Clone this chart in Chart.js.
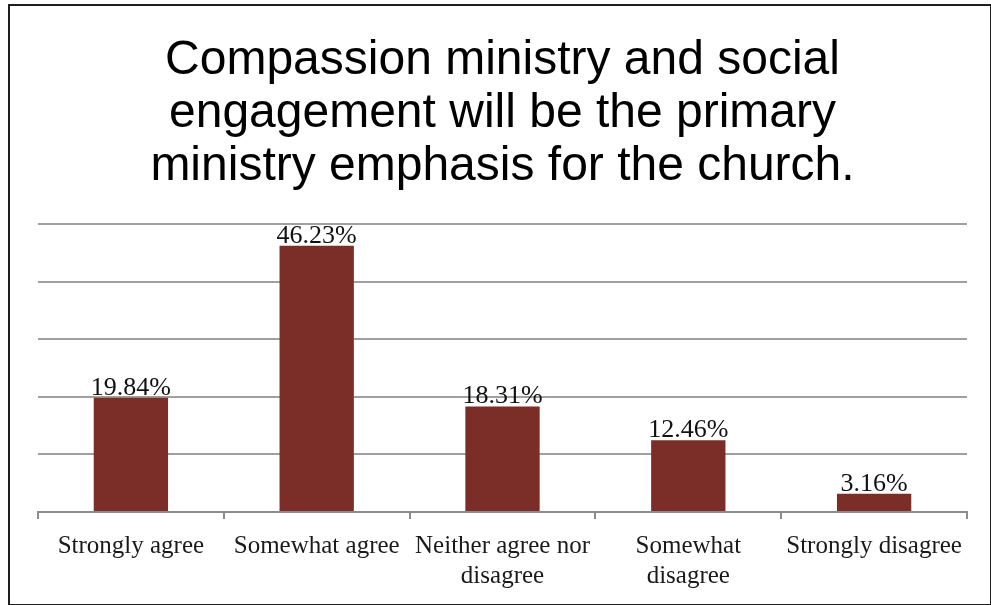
<!DOCTYPE html>
<html>
<head>
<meta charset="utf-8">
<script src="https://cdn.jsdelivr.net/npm/chart.js@4/dist/chart.umd.min.js"></script>
<style>
  html, body { margin: 0; padding: 0; background: #fff; }
  #wrap { position: relative; width: 991px; height: 605px; }
  #frame { position: absolute; left: 8px; top: 4px; width: 980px; height: 598px; border: 2px solid #1e1e1e; box-sizing: content-box; pointer-events: none; }
  canvas { position: absolute; left: 0; top: 0; }
</style>
</head>
<body>
<div id="wrap">
  <canvas id="survey" width="991" height="605"></canvas>
  <div id="frame"></div>
</div>
<script>
// --- survey results ---
const chartTitle = ['Compassion ministry and social', 'engagement will be the primary', 'ministry emphasis for the church.'];
const categories = [
    'Strongly agree',
    'Somewhat agree',
    ['Neither agree nor', 'disagree'],
    ['Somewhat', 'disagree'],
    'Strongly disagree'
];
const percentages = [19.84, 46.23, 18.31, 12.46, 3.16];
const axisMax = 50;
const axisStep = 10;

const barColor = '#7b2d28';
const serif = "'Liberation Serif', 'DejaVu Serif', serif";

// writes the percentage above each bar
const valueLabels = {
    id: 'valueLabels',
    afterDatasetsDraw(chart) {
        const ctx = chart.ctx;
        const meta = chart.getDatasetMeta(0);
        ctx.save();
        ctx.font = `26px ${serif}`;
        ctx.fillStyle = '#111';
        ctx.textAlign = 'center';
        ctx.textBaseline = 'bottom';
        meta.data.forEach((bar, i) => {
            ctx.fillText(percentages[i].toFixed(2) + '%', bar.x, bar.y + 3);
        });
        ctx.restore();
    }
};

const ctx = document.getElementById('survey').getContext('2d');
new Chart(ctx, {
    type: 'bar',
    data: {
        labels: categories,
        datasets: [{
            data: percentages,
            backgroundColor: barColor,
            borderWidth: 0,
            categoryPercentage: 1,
            barPercentage: 0.4
        }]
    },
    options: {
        responsive: false,
        animation: false,
        devicePixelRatio: 1,
        layout: { padding: { left: 38, right: 24, top: 20, bottom: 2 } },
        plugins: {
            legend: { display: false },
            tooltip: { enabled: false },
            title: {
                display: true,
                text: chartTitle,
                color: '#000',
                font: { family: "'Liberation Sans', Arial, sans-serif", size: 48, weight: 'normal', lineHeight: 1.105 },
                padding: { top: 14, bottom: 31 }
            }
        },
        scales: {
            x: {
                grid: {
                    offset: true,
                    drawOnChartArea: false,
                    drawTicks: true,
                    tickLength: 7,
                    color: '#8c8c8c',
                    lineWidth: 2
                },
                border: { color: '#8c8c8c', width: 2 },
                ticks: {
                    color: '#1a1a1a',
                    font: { family: serif, size: 25 },
                    maxRotation: 0,
                    autoSkip: false,
                    padding: 12
                }
            },
            y: {
                min: 0,
                max: axisMax,
                ticks: { stepSize: axisStep, display: false },
                grid: { color: '#a0a0a0', lineWidth: 2, drawTicks: false },
                border: { display: false }
            }
        }
    },
    plugins: [valueLabels]
});
</script>
</body>
</html>
